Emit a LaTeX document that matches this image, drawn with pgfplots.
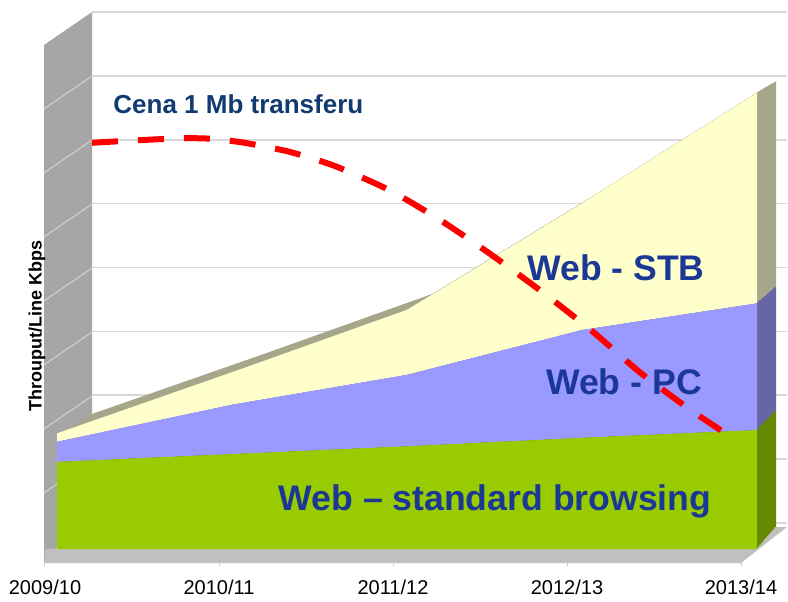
\documentclass[border=0pt]{standalone}
\usepackage{fontspec}
\setmainfont{Liberation Sans}
\usepackage{pgfplots}
\usepackage{pgfplotstable}
\pgfplotsset{compat=1.18}

\definecolor{webgreen}{RGB}{153,204,0}
\definecolor{webpc}{RGB}{153,153,255}
\definecolor{webstb}{RGB}{255,255,204}
\definecolor{sidegreen}{RGB}{102,136,0}
\definecolor{sidepc}{RGB}{102,102,166}
\definecolor{sidestb}{RGB}{166,166,138}
\definecolor{wallgray}{RGB}{166,166,166}
\definecolor{floorgray}{RGB}{192,192,192}
\definecolor{gridgray}{RGB}{217,217,217}
\definecolor{labelblue}{RGB}{28,56,150}
\definecolor{titleblue}{RGB}{16,58,112}

% stacked layers (thickness of each layer)
\pgfplotstableread{
x green pc stb
0 13.4 3.1 1.3
1 14.6 7.6 5.0
2 15.8 11.0 10.0
3 17.1 16.6 19.5
4 18.3 19.5 32.4
}\webdata

% price of 1 Mb
\pgfplotstableread{
x price
0.20 62.5
0.47 62.9
0.73 63.2
0.89 63.1
1.07 62.5
1.33 61.1
1.59 58.9
1.90 55.2
2.19 50.6
2.47 45.5
2.76 39.8
3.05 33.7
3.33 27.2
3.62 21.4
3.82 17.8
}\pricedata

\pgfplotsset{
  webarea/.style={scale only axis, width=350pt, height=260pt,
    xmin=0, xmax=4, ymin=0, ymax=80, axis line style={draw=none},
    ticks=none, stack plots=y, anchor=south west},
}

\begin{document}
\begin{tikzpicture}
\begin{scope}[x=0.5pt,y=-0.5pt]
\path[use as bounding box] (0,0) rectangle (788,598);
\fill[wallgray] (44,45) -- (92,12) -- (92,531) -- (44,563) -- cycle;
\foreach \g in {76,140,...,524} \draw[gray!35, line width=0.5pt] (44,\g+33) -- (92,\g);
\fill[floorgray] (45,549) -- (45,563) -- (741,563) -- (787,527) -- (776,527) -- cycle;
\end{scope}

% back wall grid
\begin{axis}[scale only axis, width=347.5pt, height=255.5pt,
  at={(46pt,-261.5pt)}, anchor=south west,
  xmin=0, xmax=1, ymin=0, ymax=8, ytick={0,...,8}, xtick=\empty,
  yticklabels={}, major tick length=0pt, ymajorgrids,
  grid style={gridgray, line width=0.8pt}, axis line style={draw=none}]
\end{axis}

% depth of the 3D areas (back plane slightly smaller: perspective)
\foreach \t in {1,0.92,0.84,0.76,0.68,0.6,0.52,0.44,0.36,0.28,0.2,0.12,0.06}{
\pgfmathsetmacro\ax{28.5+\t*17.5}
\pgfmathsetmacro\ay{-274.5+\t*11}
\pgfmathsetmacro\aw{350-\t*8}
\pgfmathsetmacro\ah{260-\t*6}
\begin{axis}[webarea, width=\aw pt, height=\ah pt, at={(\ax pt,\ay pt)}]
\addplot[fill=sidegreen, draw=none] table[x=x,y=green]{\webdata} \closedcycle;
\addplot[fill=sidepc, draw=none] table[x=x,y=pc]{\webdata} \closedcycle;
\addplot[fill=sidestb, draw=none] table[x=x,y=stb]{\webdata} \closedcycle;
\end{axis}
}

% front faces
\begin{axis}[webarea, at={(28.5pt,-274.5pt)}]
\addplot[fill=webgreen, draw=none] table[x=x,y=green]{\webdata} \closedcycle;
\addplot[fill=webpc, draw=none] table[x=x,y=pc]{\webdata} \closedcycle;
\addplot[fill=webstb, draw=none] table[x=x,y=stb]{\webdata} \closedcycle;
\end{axis}

% x tick labels on the floor
\begin{axis}[scale only axis, width=348pt, height=10pt,
  at={(22.5pt,-281pt)}, anchor=south west,
  xmin=0, xmax=4, ymin=0, ymax=1,
  axis x line*=bottom, axis y line=none, axis line style={draw=none},
  xtick={0,...,4},
  xticklabels={\mbox{2009/10},\mbox{2010/11},\mbox{2011/12},\mbox{2012/13},\mbox{2013/14}},
  xtick align=outside, major tick length=2pt,
  tick style={gray!40, line width=0.5pt},
  xticklabel style={font=\fontsize{10}{12}\selectfont, anchor=base, yshift=-14.3pt}]
\end{axis}

\begin{scope}[x=0.5pt,y=-0.5pt]
\node[anchor=base west, inner sep=0, text=titleblue,
  font=\bfseries\fontsize{13}{15}\selectfont] at (113,113) {Cena 1 Mb transferu};
\node[anchor=base, inner sep=0, text=labelblue,
  font=\bfseries\fontsize{17.8}{20}\selectfont] at (616,280) {Web - STB};
\node[anchor=base, inner sep=0, text=labelblue,
  font=\bfseries\fontsize{17.8}{20}\selectfont] at (624,394) {Web - PC};
\node[anchor=base, inner sep=0, text=labelblue,
  font=\bfseries\fontsize{17.8}{20}\selectfont] at (495,510) {Web – standard browsing};
\node[rotate=90, inner sep=0, font=\bfseries\fontsize{9}{11}\selectfont]
  at (37,326) {Throuput/Line Kbps};
\end{scope}

% price curve
\begin{axis}[webarea, stack plots=false, at={(28.5pt,-274.5pt)}]
\addplot[red, line width=3pt, dash pattern=on 13pt off 10pt, smooth, tension=0.4]
  table[x=x,y=price]{\pricedata};
\end{axis}
\end{tikzpicture}
\end{document}
